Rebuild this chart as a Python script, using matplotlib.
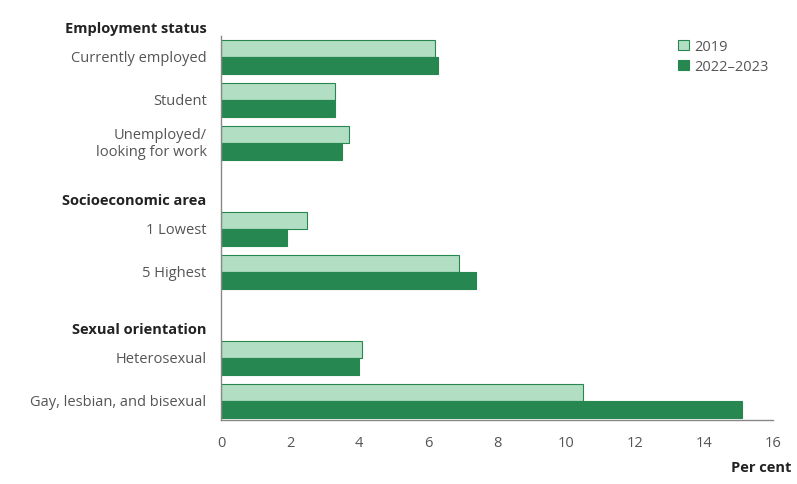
import matplotlib.pyplot as plt
import numpy as np

plt.rcParams["font.family"] = ["Open Sans", "DejaVu Sans"]

categories = ["Currently employed", "Student", "Unemployed/\nlooking for work", "",
              "1 Lowest", "5 Highest", "",
              "Heterosexual", "Gay, lesbian, and bisexual"]
vals_2019 = [6.2, 3.3, 3.7, np.nan, 2.5, 6.9, np.nan, 4.1, 10.5]
vals_2023 = [6.3, 3.3, 3.5, np.nan, 1.9, 7.4, np.nan, 4.0, 15.1]
headers = [("Employment status", 0), ("Socioeconomic area", 4), ("Sexual orientation", 7)]

light = "#b2dec3"
dark = "#268750"
grey = "#555555"

fig = plt.figure(figsize=(7.97, 4.85), dpi=100)
ax = fig.add_axes([221 / 797, 1 - 421 / 485, 552 / 797, 384 / 485])

y = np.arange(len(categories))
h = 0.4
ax.barh(y - h / 2, vals_2019, height=h, color=light, edgecolor=dark, linewidth=0.8, label="2019")
ax.barh(y + h / 2, vals_2023, height=h, color=dark, edgecolor=dark, linewidth=0.8, label="2022\u20132023")

ax.set_ylim(8.44, -0.49)
ax.set_xlim(0, 16)
ax.set_xticks(np.arange(0, 17, 2))
ax.set_yticks([])
ax.tick_params(axis="x", length=0, pad=10.5, labelsize=10.5, labelcolor=grey)

for s in ["top", "right"]:
    ax.spines[s].set_visible(False)
for s in ["left", "bottom"]:
    ax.spines[s].set_color("#888888")
    ax.spines[s].set_linewidth(1)

for i, lab in enumerate(categories):
    if lab:
        ax.text(-0.42, i, lab, ha="right", va="center", fontsize=10.5, color=grey,
                linespacing=1.25)
for lab, i in headers:
    ax.text(-0.42, i - 0.68, lab, ha="right", va="center", fontsize=10.5,
            fontweight="bold", color="#222222")

ax.text(1.034, -0.123, "Per cent", transform=ax.transAxes, ha="right", va="center",
        fontsize=10.5, fontweight="bold", color="#222222")

ax.legend(loc="upper left", bbox_to_anchor=(0.805, 1.026), frameon=False, fontsize=10.5,
          handlelength=0.7, handleheight=0.7, handletextpad=0.4, labelspacing=0.35,
          labelcolor=grey)

fig.savefig("out.png", dpi=100)
